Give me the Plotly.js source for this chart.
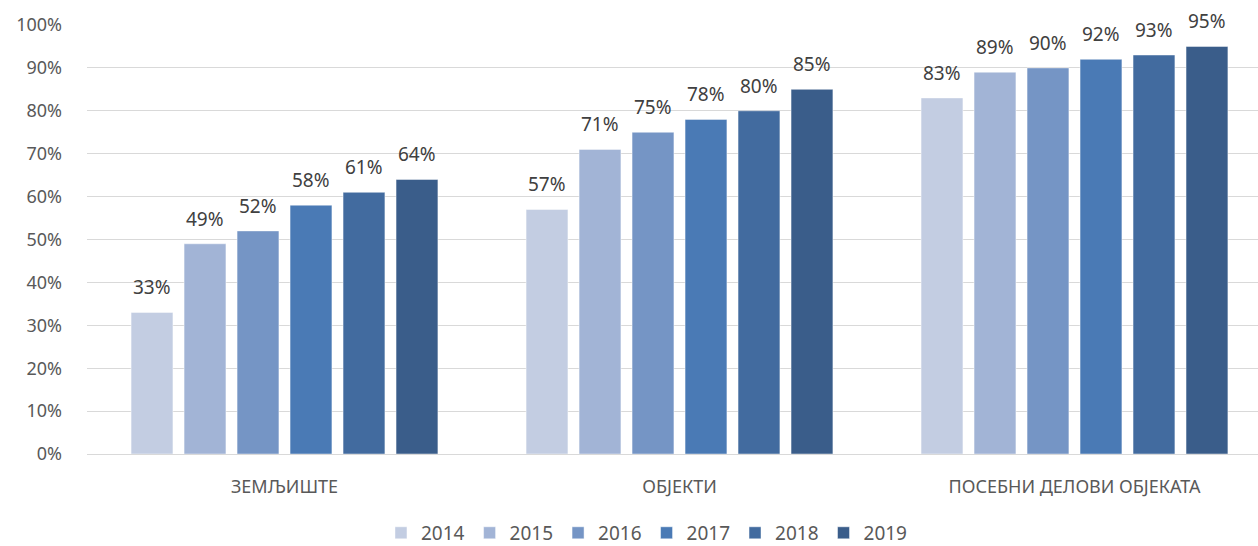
<!DOCTYPE html>
<html>
<head>
<meta charset="utf-8">
<script src="https://cdn.plot.ly/plotly-3.0.1.min.js"></script>
<style>html,body{margin:0;padding:0;background:#fff;}#chart{width:1258px;height:546px;}</style>
</head>
<body>
<div id="chart"></div>
<script>
const categories = ["ЗЕМЉИШТЕ", "ОБЈЕКТИ", "ПОСЕБНИ ДЕЛОВИ ОБЈЕКАТА"];
const years = ["2014", "2015", "2016", "2017", "2018", "2019"];
const values2014 = [0.33, 0.57, 0.83];
const values2015 = [0.49, 0.71, 0.89];
const values2016 = [0.52, 0.75, 0.90];
const values2017 = [0.58, 0.78, 0.92];
const values2018 = [0.61, 0.80, 0.93];
const values2019 = [0.64, 0.85, 0.95];
const seriesValues = [values2014, values2015, values2016, values2017, values2018, values2019];
const colors = ["#C3CDE2", "#A2B4D6", "#7595C5", "#4A7AB5", "#426B9F", "#3A5D8A"];

const font = "Noto Sans, Open Sans, sans-serif";
const W = 1258, H = 546;
const margin = {l: 87, r: 0, t: 25, b: 92, autoexpand: false};
const xRange = [-0.5, 2.4646];
const bargap = 0.195;

const traces = years.map((y, i) => ({
  type: "bar",
  name: y,
  x: categories,
  y: seriesValues[i],
  marker: {color: colors[i], line: {color: "rgba(255,255,255,0.45)", width: 1}},
  hoverinfo: "skip"
}));

// data labels positioned over each bar via the category axis
const plotW = W - margin.l - margin.r;
const catPx = plotW / (xRange[1] - xRange[0]);
const slotPx = catPx * (1 - bargap) / years.length;
const annotations = [];
years.forEach((y, i) => {
  seriesValues[i].forEach((v, j) => {
    annotations.push({
      x: categories[j], y: v, xref: "x", yref: "y",
      text: Math.round(v * 100) + "%",
      showarrow: false,
      xshift: (i - (years.length - 1) / 2) * slotPx,
      yanchor: "middle", yshift: 25,
      font: {family: font, size: 19, color: "#404040"}
    });
  });
});

const layout = {
  width: W, height: H,
  margin: margin,
  paper_bgcolor: "#fff", plot_bgcolor: "#fff",
  barmode: "group",
  bargap: bargap,
  bargroupgap: 0.21,
  font: {family: font, color: "#595959", size: 18},
  xaxis: {
    type: "category",
    range: xRange,
    showgrid: false, zeroline: false, showline: false,
    ticks: "", tickfont: {family: font, size: 18, color: "#595959"},
    ticklabelstandoff: 20,
    automargin: false
  },
  yaxis: {
    range: [0, 1], tickformat: ".0%", dtick: 0.1,
    showgrid: true, gridcolor: "#D9D9D9", gridwidth: 1,
    zeroline: true, zerolinecolor: "#D9D9D9", zerolinewidth: 1,
    showline: false, ticks: "", ticklen: 0,
    tickfont: {family: font, size: 18, color: "#595959"},
    ticklabelstandoff: 24,
    automargin: false
  },
  legend: {
    orientation: "h", x: 0.4782, xanchor: "center", y: -0.184, yanchor: "middle",
    font: {family: font, size: 19, color: "#595959"},
    traceorder: "normal", itemwidth: 30, tracegroupgap: 0
  },
  annotations: annotations,
  showlegend: true
};

Plotly.newPlot("chart", traces, layout, {displayModeBar: false, staticPlot: true});
</script>
</body>
</html>
